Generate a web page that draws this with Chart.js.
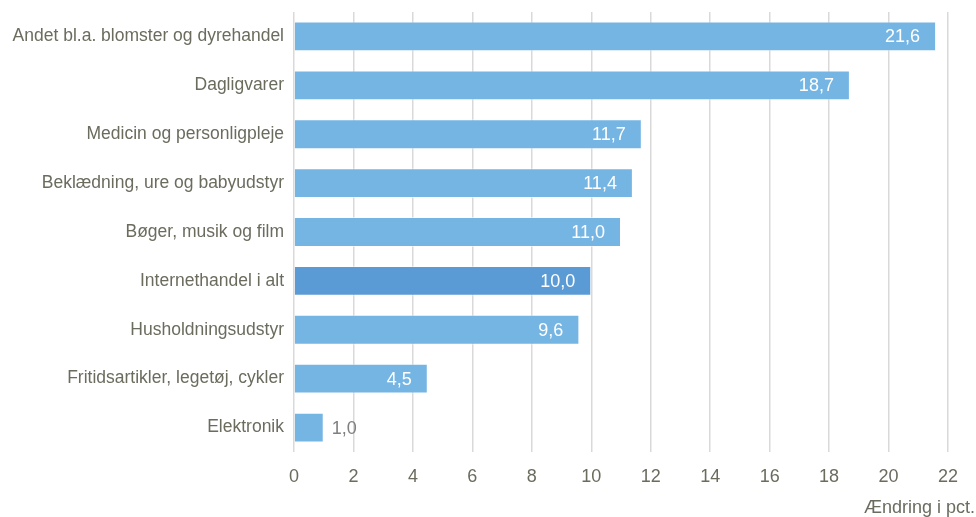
<!DOCTYPE html>
<html>
<head>
<meta charset="utf-8">
<script src="https://cdn.jsdelivr.net/npm/chart.js@4/dist/chart.umd.min.js"></script>
<style>
  html, body { margin: 0; padding: 0; background: #fff; }
  #wrap { width: 976px; height: 517px; }
</style>
</head>
<body>
<div id="wrap"><canvas id="chart"></canvas></div>
<script>
// categories and values (change in pct.)
const categories = [
  "Andet bl.a. blomster og dyrehandel",
  "Dagligvarer",
  "Medicin og personligpleje",
  "Beklædning, ure og babyudstyr",
  "Bøger, musik og film",
  "Internethandel i alt",
  "Husholdningsudstyr",
  "Fritidsartikler, legetøj, cykler",
  "Elektronik"
];
const values = [21.6, 18.7, 11.7, 11.4, 11.0, 10.0, 9.6, 4.5, 1.0];
const highlight = "Internethandel i alt";
const axisTitle = "Ændring i pct.";

const FONT = "'Liberation Sans', Arial, sans-serif";
const TEXT = "#6b6b5e";

//bar colours, total is a bit darker
const barColors = categories.map(c => c === highlight ? "#5b9bd5" : "#75b5e4");

//draws the value labels at the end of each bar
const valueLabels = {
  id: "valueLabels",
  afterDatasetsDraw(chart) {
    const ctx = chart.ctx;
    const meta = chart.getDatasetMeta(0);
    ctx.save();
    ctx.font = "18px " + FONT;
    ctx.textBaseline = "middle";
    meta.data.forEach((bar, i) => {
      const txt = values[i].toFixed(1).replace(".", ",");
      const w = ctx.measureText(txt).width;
      const len = bar.x - bar.base;
      if (len > w + 24) {
        ctx.fillStyle = "#ffffff";
        ctx.textAlign = "right";
        ctx.fillText(txt, bar.x - 16, bar.y + 1);
      } else {
        ctx.fillStyle = "#7f7f7f";
        ctx.textAlign = "left";
        ctx.fillText(txt, bar.x + 8, bar.y + 1);
      }
    });
    ctx.restore();
  }
};

//axis title sits under the tick labels, flush right
const axisTitlePlugin = {
  id: "axisTitlePlugin",
  afterDraw(chart) {
    const ctx = chart.ctx;
    ctx.save();
    ctx.font = "18px " + FONT;
    ctx.fillStyle = TEXT;
    ctx.textAlign = "right";
    ctx.textBaseline = "middle";
    ctx.fillText(axisTitle, chart.width - 1, 508);
    ctx.restore();
  }
};

new Chart(document.getElementById("chart"), {
  type: "bar",
  plugins: [valueLabels, axisTitlePlugin],
  data: {
    labels: categories,
    datasets: [{
      data: values,
      backgroundColor: barColors,
      borderColor: "rgba(255,255,255,0.45)",
      borderWidth: 1,
      categoryPercentage: 1,
      barPercentage: 0.61
    }]
  },
  options: {
    indexAxis: "y",
    responsive: true,
    maintainAspectRatio: false,
    animation: false,
    layout: { padding: { top: 12, right: 28, bottom: 20, left: 0 } },
    plugins: {
      legend: { display: false },
      tooltip: { enabled: false }
    },
    scales: {
      x: {
        min: 0,
        max: 22,
        ticks: {
          stepSize: 2,
          color: TEXT,
          padding: 14,
          font: { family: FONT, size: 18 }
        },
        grid: { color: "#d9d9d9", lineWidth: 1.5, drawTicks: false },
        border: { display: false },
        afterFit: s => { s.height = 45; }
      },
      y: {
        ticks: {
          color: TEXT,
          padding: 10,
          font: { family: FONT, size: 17.5 }
        },
        grid: { display: false, drawTicks: false },
        border: { display: false },
        afterFit: s => {
          s.width = 294;
          s.paddingTop = 0;
          s.paddingBottom = 0;
        }
      }
    }
  }
});
</script>
</body>
</html>
